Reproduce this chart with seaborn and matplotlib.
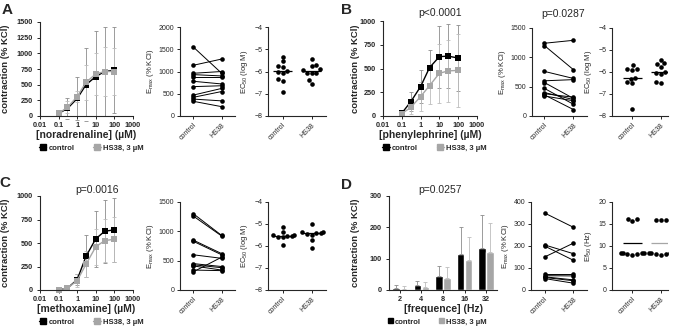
import numpy as np
import pandas as pd
import matplotlib
matplotlib.use('Agg')
import matplotlib.pyplot as plt
from matplotlib.lines import Line2D
from matplotlib.patches import Patch
import seaborn as sns

sns.set_style('ticks')
plt.rcParams['font.family'] = ['Liberation Sans', 'DejaVu Sans']
plt.rcParams['mathtext.default'] = 'regular'

conc = [0.1, 0.3, 1, 3, 10, 30, 100]
groups = ['control', 'HS38']
freq = ['2', '4', '8', '16', '32']

# A - noradrenaline
na_ctrl = [40, 120, 280, 500, 630, 710, 730]
na_ctrl_sd = [20, 160, 340, 580, 720, 710, 690]
na_hs = [40, 140, 310, 540, 670, 710, 710]
na_hs_sd = [15, 100, 90, 280, 330, 390, 370]
na_emax_ctrl = [1550, 1140, 960, 930, 880, 780, 660, 470, 420, 380, 330]
na_emax_hs = [960, 1280, 1000, 900, 880, 720, 680, 620, 550, 340, 210]
na_ec_ctrl = [-5.33, -5.55, -5.74, -5.8, -5.98, -6.0, -6.05, -6.33, -6.44, -6.9]
na_ec_hs = [-5.43, -5.71, -5.74, -5.9, -5.93, -6.05, -6.05, -6.05, -6.38, -6.55]

# B - phenylephrine
pe_ctrl = [30, 150, 310, 510, 625, 630, 610]
pe_ctrl_sd = [20, 100, 170, 190, 325, 340, 350]
pe_hs = [25, 90, 205, 320, 450, 475, 480]
pe_hs_sd = [20, 70, 150, 190, 310, 330, 380]
pe_emax_ctrl = [1240, 1200, 760, 600, 570, 470, 400, 380, 360, 340]
pe_emax_hs = [1290, 790, 640, 620, 300, 200, 280, 320, 110, 260]
pe_ec_ctrl = [-5.7, -5.85, -5.88, -5.9, -6.25, -6.3, -6.45, -6.5, -7.7]
pe_ec_hs = [-5.45, -5.6, -5.65, -5.75, -6.0, -6.05, -6.1, -6.45, -6.5]

# C - methoxamine
me_ctrl = [5, 20, 110, 360, 545, 625, 640]
me_ctrl_sd = [3, 10, 60, 225, 300, 335, 340]
me_hs = [5, 20, 100, 275, 460, 525, 540]
me_hs_sd = [3, 10, 70, 135, 190, 230, 240]
me_emax_ctrl = [1300, 1260, 850, 830, 600, 450, 430, 410, 340, 310]
me_emax_hs = [930, 920, 620, 600, 540, 400, 380, 340, 330, 560]
me_ec_ctrl = [-5.13, -5.35, -5.5, -5.52, -5.55, -5.55, -5.57, -5.6, -5.95]
me_ec_hs = [-5.02, -5.35, -5.38, -5.4, -5.4, -5.45, -5.5, -5.73, -6.07]

# D - EFS
fr_ctrl = [5, 15, 45, 115, 135]
fr_ctrl_sd = [10, 15, 33, 85, 105]
fr_hs = [3, 10, 37, 96, 120]
fr_hs_sd = [9, 15, 35, 74, 95]
fr_emax_ctrl = [350, 205, 200, 150, 72, 65, 60, 57, 52]
fr_emax_hs = [285, 165, 135, 213, 72, 64, 46, 42, 31]
fr_ef_ctrl = [16.1, 15.7, 16.1, 8.5, 8.4, 8.1, 8.0, 8.2, 8.4, 8.5]
fr_ef_hs = [16.0, 16.0, 16.0, 8.5, 8.3, 8.1, 8.0, 8.1, 8.3, 8.6]

BLACK = 'black'
GREY = '#a6a6a6'
W, H = 677, 328

fig = plt.figure(figsize=(6.77, 3.28), dpi=100)


def box(l, r, t, b):
    return fig.add_axes([l / W, 1 - b / H, (r - l) / W, (b - t) / H])


def style(ax, fs):
    sns.despine(ax=ax)
    for s in ['left', 'bottom']:
        ax.spines[s].set_linewidth(0.8)
    ax.tick_params(labelsize=fs, length=2.5, width=0.7, pad=1.5)


def curve(ax, ctrl, csd, hs, hsd, ymax, xlabel, ylx):
    ax.set_xscale('log')
    ax.errorbar(conc, ctrl, yerr=csd, fmt='none', ecolor='#8c8c8c', elinewidth=0.6, capsize=1.5, capthick=0.6)
    ax.errorbar(conc, hs, yerr=hsd, fmt='none', ecolor='#bdbdbd', elinewidth=0.6, capsize=1.5, capthick=0.6)
    df = pd.DataFrame({'conc': conc * 2, 'val': ctrl + hs,
                       'grp': ['control'] * len(conc) + ['HS38'] * len(conc)})
    sns.lineplot(data=df, x='conc', y='val', hue='grp', palette=[BLACK, GREY], marker='s',
                 markersize=4.5, markeredgewidth=0, lw=1, legend=False, ax=ax)
    for ln in ax.lines:
        ln.set_clip_on(False)
    ax.set_xlim(0.01, 1000)
    ax.set_ylim(0, ymax)
    ax.set_xticks([0.01, 0.1, 1, 10, 100, 1000])
    ax.set_xticklabels(['0.01', '0.1', '1', '10', '100', '1000'])
    ax.minorticks_off()
    ax.set_yticks(np.arange(0, ymax + 1, 250))
    style(ax, 5.2)
    ax.tick_params(axis='y', pad=2.5)
    for t in ax.get_xticklabels() + ax.get_yticklabels():
        t.set_fontweight('bold')
    ax.set_xlabel(xlabel, fontsize=7.5, fontweight='bold', labelpad=1)
    ax.set_ylabel('contraction (% KCl)', fontsize=6.8, fontweight='bold')
    ax.yaxis.set_label_coords(ylx, 0.5)
    handles = [Line2D([], [], color=BLACK, marker='s', markersize=4, lw=1),
               Line2D([], [], color=GREY, marker='s', markersize=4, lw=1)]
    ax.legend(handles, ['control', 'HS38, 3 µM'], loc='center', bbox_to_anchor=(0.55, -0.34),
              ncol=2, frameon=False, prop={'size': 5.5, 'weight': 'bold'}, handlelength=1.0,
              handletextpad=0.3, columnspacing=2.4)


def paired(ax, c, h, yticks, xl):
    n = len(c)
    df = pd.DataFrame({'x': [0] * n + [1] * n, 'y': c + h, 'pair': list(range(n)) * 2})
    sns.lineplot(data=df, x='x', y='y', units='pair', estimator=None, color=BLACK, marker='o',
                 markersize=3.3, markeredgewidth=0, lw=0.7, ax=ax)
    ax.set_xlim(*xl)
    ax.set_ylim(yticks[0], yticks[-1])
    ax.set_yticks(yticks)
    ax.set_xticks([0, 1])
    ax.set_xticklabels(groups, rotation=45, ha='right', rotation_mode='anchor')
    style(ax, 5)
    ax.set_xlabel('')
    ax.set_ylabel('E$_{max}$ (% KCl)', fontsize=5.5, labelpad=2)


def scatter(ax, c, h, yticks, ylabel, xl, mean=False):
    df = pd.DataFrame({'grp': ['control'] * len(c) + ['HS38'] * len(h), 'val': c + h})
    sns.swarmplot(data=df, x='grp', y='val', order=groups, color=BLACK, size=3.3, ax=ax)
    for i, v in enumerate([c, h]):
        m = np.mean(v) if mean else np.median(v)
        col = BLACK if (i == 0 or not mean) else GREY
        ax.hlines(m, i - 0.33, i + 0.33, color=col, lw=0.9)
    ax.set_xlim(*xl)
    ax.set_ylim(yticks[0], yticks[-1])
    ax.set_yticks(yticks)
    ax.set_xticks([0, 1])
    ax.set_xticklabels(groups, rotation=45, ha='right', rotation_mode='anchor')
    style(ax, 5)
    ax.set_xlabel('')
    ax.set_ylabel(ylabel, fontsize=5.5, labelpad=3)


# panel A
axA = box(40, 133, 22, 116)
curve(axA, na_ctrl, na_ctrl_sd, na_hs, na_hs_sd, 1500, '[noradrenaline] (µM)', -0.32)
paired(box(180, 235, 27, 116), na_emax_ctrl, na_emax_hs, [0, 500, 1000, 1500, 2000], (-0.47, 1.47))
scatter(box(268, 326, 27, 116), na_ec_ctrl, na_ec_hs, [-8, -7, -6, -5, -4], 'EC$_{50}$ (log M)', (-0.5, 1.5))

# panel B
axB = box(383, 477, 21, 116)
curve(axB, pe_ctrl, pe_ctrl_sd, pe_hs, pe_hs_sd, 1000, '[phenylephrine] (µM)', -0.24)
axBe = box(532, 587, 28, 116)
paired(axBe, pe_emax_ctrl, pe_emax_hs, [0, 500, 1000, 1500], (-0.43, 1.47))
scatter(box(612, 668, 28, 116), pe_ec_ctrl, pe_ec_hs, [-8, -7, -6, -5, -4], 'EC$_{50}$ (log M)', (-0.7, 1.25))

# panel C
axC = box(40, 133, 196, 290)
curve(axC, me_ctrl, me_ctrl_sd, me_hs, me_hs_sd, 1000, '[methoxamine] (µM)', -0.32)
paired(box(180, 235, 202, 290), me_emax_ctrl, me_emax_hs, [0, 500, 1000, 1500], (-0.47, 1.47))
scatter(box(268, 326, 202, 290), me_ec_ctrl, me_ec_hs, [-8, -7, -6, -5, -4], 'EC$_{50}$ (log M)', (-0.5, 1.5))

# panel D
axD = box(389, 497, 196, 290)
dfD = pd.DataFrame({'freq': freq * 2, 'val': fr_ctrl + fr_hs,
                    'grp': ['control'] * 5 + ['HS38'] * 5})
sns.barplot(data=dfD, x='freq', y='val', hue='grp', order=freq, palette=[BLACK, GREY],
            width=0.74, gap=0.06, errorbar=None, legend=False, ax=axD)
bars = [p for p in axD.patches]
xs = [p.get_x() + p.get_width() / 2 for p in bars]
axD.errorbar(xs[:5], fr_ctrl, yerr=[[0] * 5, fr_ctrl_sd], fmt='none', ecolor='#8c8c8c',
             elinewidth=0.6, capsize=1.5, capthick=0.6)
axD.errorbar(xs[5:], fr_hs, yerr=[[0] * 5, fr_hs_sd], fmt='none', ecolor='#bdbdbd',
             elinewidth=0.6, capsize=1.5, capthick=0.6)
axD.set_xlim(-0.5, 4.5)
axD.set_ylim(0, 300)
axD.set_yticks([0, 100, 200, 300])
style(axD, 5.2)
axD.tick_params(axis='y', pad=2.5)
for t in axD.get_xticklabels() + axD.get_yticklabels():
    t.set_fontweight('bold')
axD.set_xlabel('[frequence] (Hz)', fontsize=7.5, fontweight='bold', labelpad=1)
axD.set_ylabel('contraction (% KCl)', fontsize=6.8, fontweight='bold')
axD.yaxis.set_label_coords(-0.27, 0.5)
axD.legend([Patch(color=BLACK), Patch(color=GREY)], ['control', 'HS38, 3 µM'], loc='center',
           bbox_to_anchor=(0.45, -0.34), ncol=2, frameon=False, prop={'size': 5.5, 'weight': 'bold'},
           handlelength=0.6, handleheight=0.6, handletextpad=0.3, columnspacing=2.4)
paired(box(531, 587, 202, 290), fr_emax_ctrl, fr_emax_hs, [0, 100, 200, 300, 400], (-0.47, 1.47))
scatter(box(612, 668, 202, 290), fr_ef_ctrl, fr_ef_hs, [0, 5, 10, 15, 20], 'Ef$_{50}$ (Hz)',
        (-0.7, 1.25), mean=True)

# annotations
for s, x, y in [('A', 7, 10), ('B', 346, 10), ('C', 5, 183), ('D', 346, 185)]:
    fig.text(x / W, 1 - y / H, s, fontsize=11, fontweight='bold', ha='center', va='center')
for s, x, y in [('p<0.0001', 440, 13), ('p=0.0287', 563, 14), ('p=0.0016', 97, 190), ('p=0.0257', 440, 190)]:
    fig.text(x / W, 1 - y / H, s, fontsize=7.5, ha='center', va='center')

fig.savefig('out.png', dpi=100)
